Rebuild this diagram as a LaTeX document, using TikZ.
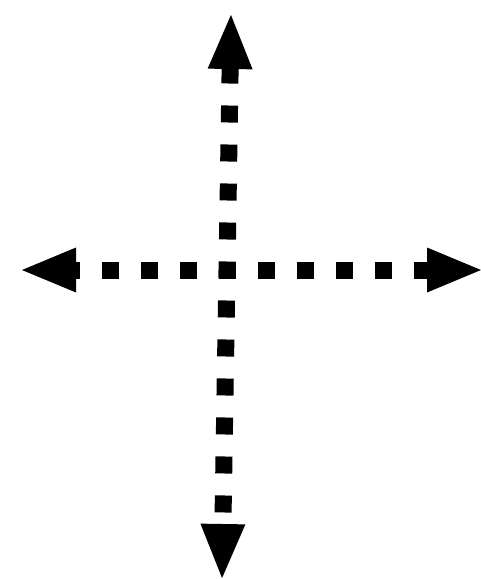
\documentclass[tikz,border=0pt]{standalone}
\usetikzlibrary{arrows.meta}

\begin{document}
\begin{tikzpicture}[x=1pt, y=-1pt,
  dotline/.style={line width=17pt, dash pattern=on 17pt off 22pt, dash phase=8.5pt,
    -{Triangle[width=40pt, length=57pt]}}]
\useasboundingbox (0,0) rectangle (480,579);

% Centre and the four ends
\coordinate (c) at (227,270);
\coordinate (up) at (231,12);
\coordinate (down) at (222,581);
\coordinate (left) at (19,270);
\coordinate (right) at (484,270);

% Dotted arrows
\draw[dotline] (c) -- (up);
\draw[dotline] (c) -- (down);
\draw[dotline] (c) -- (left);
\draw[dotline] (c) -- (right);
\end{tikzpicture}
\end{document}
